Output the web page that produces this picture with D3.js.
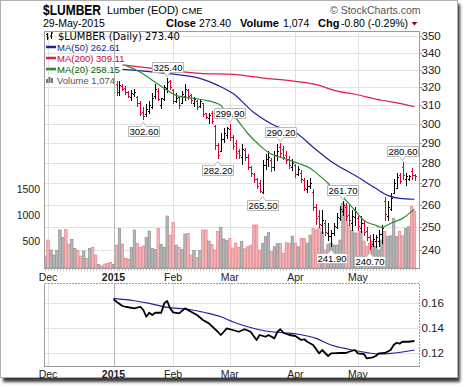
<!DOCTYPE html>
<html>
<head>
<meta charset="utf-8">
<script src="https://cdn.jsdelivr.net/npm/d3@7"></script>
<style>
  body { margin: 0; background: #fff; }
  svg { display: block; }
</style>
</head>
<body>
<div id="chart"></div>
<script>
// ---- data (bar index 0 = 28-Nov-2014, 124 = 29-May-2015) ----
const monthLabels = ['Dec', '2015', 'Feb', 'Mar', 'Apr', 'May'];
const monthIdx = [1, 23, 43, 62, 84, 105];

const priceTicks = [240, 250, 260, 270, 280, 290, 300, 310, 320, 330, 340, 350];
const volTicks = [500, 1000, 1500];
const ratioTicks = [0.12, 0.14, 0.16];

const priceStart = 24;
const opens = [
  322, 317, 320.5, 319.5, 317.5, 314.5, 316, 314.5, 311, 306.5,
  305, 307, 309, 315, 318, 310, 313.5, 319.5, 323.5, 318.5,
  312.5, 314.5, 311, 315, 318.5, 315.5, 311, 312, 309.5, 311,
  305.5, 303, 306, 299, 289, 286, 292, 294, 297, 293,
  290, 286, 283, 286.5, 283, 278, 274.5, 272, 270, 266,
  279, 282, 281.5, 278, 284, 288, 287, 284, 282, 278,
  279, 274.5, 275, 271.5, 267.5, 269, 266, 259, 255, 251,
  252, 247.5, 246, 247.5, 250, 254, 257, 259, 255.5, 252,
  254.5, 254, 249.5, 252, 248.5, 245.5, 242.5, 244, 244, 247,
  262, 255, 258, 265.5, 268, 274, 278, 272, 272, 276,
  274
];
const highs = [
  323.5, 323.5, 321.5, 320.5, 318, 318.5, 319, 315, 312.5, 309,
  310.5, 312.5, 316.5, 321.5, 319.5, 314, 321, 325.4, 324, 319,
  316.5, 315, 318, 321.5, 319, 316, 314.5, 312.7, 313.5, 311,
  306, 306, 307, 299.5, 290, 295, 297.5, 298.5, 299.9, 294,
  291.4, 287, 289.5, 287.5, 284.5, 278.5, 275, 272.5, 271.5, 281.3,
  284.5, 286, 282.5, 286, 289.5, 290.2, 288.5, 286, 283.5, 282,
  279.5, 278.5, 276.3, 272.5, 271.5, 272.5, 267.5, 260.5, 257.5, 257.5,
  253, 252, 248.6, 252, 256.5, 259.5, 261.7, 261, 260, 257.5,
  259, 255, 255, 253, 250, 246.5, 247.2, 246.5, 248.6, 250.8,
  263.5, 262, 265.5, 272, 274.8, 274.8, 280.6, 274.8, 274, 277.5,
  274.5
];
const lows = [
  315.5, 315.5, 318.5, 316, 314.5, 313, 315, 309.5, 304.5, 302.6,
  304, 305.5, 308.5, 314, 313, 308.5, 312.7, 317, 319, 311,
  311.5, 308.5, 311, 312.7, 313.5, 311, 309.5, 308, 309, 304,
  303, 300.5, 300.5, 287, 282.2, 286, 290.5, 292.5, 291.5, 287,
  282.5, 282.5, 279.5, 281.3, 277, 273.5, 270.5, 267.8, 266.2, 265.5,
  277, 278.5, 276, 276.3, 281.3, 283, 282, 280, 277.5, 276.3,
  273, 274, 270.5, 266.8, 265.8, 268, 257.5, 251.5, 250, 247.5,
  246.5, 244.2, 241.9, 246.5, 249.5, 253, 255.3, 253, 251, 248.6,
  251, 248.6, 247.7, 246.5, 244.2, 240.7, 242, 241.5, 242, 243.3,
  253, 253, 257.5, 265.5, 267.8, 270, 272, 269.5, 271.5, 272,
  271.5
];
const closes = [
  317, 321, 319, 317, 315, 316.5, 317.5, 311, 306, 304,
  308, 310, 314, 319, 313.5, 313.8, 320, 323, 320, 312,
  314, 310, 316, 319, 315, 313, 313.5, 309, 312, 305,
  303.5, 304.5, 301.5, 289, 284, 292, 295, 297.5, 293, 288.5,
  285, 284, 287, 283, 278, 275, 272, 269, 266.5, 279,
  282, 283, 278, 284, 286, 285, 283, 281.5, 279, 280,
  274.5, 277, 272, 268, 269, 270, 259, 254, 251.5, 253,
  248, 246, 247.5, 250.5, 254.5, 258, 260, 255, 253, 255,
  257, 250.5, 252, 248, 245.5, 242, 245, 245.5, 247, 249.5,
  256, 259, 263, 270, 273, 271, 274, 273.5, 273.8, 274.2,
  273.4
];

const volumes = [
  212, 519, 327, 231, 314, 712, 571, 724, 442, 532,
  359, 314, 212, 308, 167, 359, 378, 231, 51, 20,
  58, 71, 90, 51, 423, 744, 442, 167, 154, 378,
  712, 455, 378, 404, 571, 692, 359, 340, 744, 436,
  378, 981, 615, 852, 423, 378, 340, 635, 648, 231,
  314, 186, 314, 712, 712, 500, 436, 327, 679, 763,
  538, 506, 551, 365, 460, 380, 487, 350, 390, 420,
  808, 808, 327, 456, 583, 660, 294, 390, 456, 456,
  270, 467, 460, 596, 460, 390, 552, 552, 460, 615,
  744, 712, 750, 673, 327, 440, 461, 423, 423, 519,
  1230, 1180, 808, 700, 654, 654, 679, 500, 390, 456,
  487, 400, 327, 519, 679, 583, 600, 936, 583, 679,
  600, 744, 775, 1160, 1074
];
// r = down day, g = up day
const barDir = 'grgggggrrggrrgrgrrgrrrrg' +
  'rgrrrggrrrggggrgggrrgrggrrgrgrrgrrrgggr' +
  'rrrgrrrrrrgggrggrrrrgrgrrggrrrgrggggggrrggrgrrrggggrggggrrggrr';

const ma50 = [[26, 330.2], [40, 328], [52, 325], [58, 321], [63, 316.5], [70, 306.1], [77, 299.1],
  [84, 295.5], [90, 287.8], [96, 280.7], [104, 273.9], [111, 267.7], [115, 264.4], [119, 263], [124, 262.6]];
const ma200 = [[26, 332.8], [36, 330.8], [52, 327.9], [63, 327.3], [74, 325], [84, 323.3], [92, 321],
  [97, 318.2], [104, 316], [113, 312.7], [119, 311], [124, 309.1]];
const ma20 = [[27, 332.5], [32, 328.5], [36, 323.9], [41, 318.2], [44, 315.4], [50, 313.7], [54, 312.7],
  [59, 309.9], [60, 307.7], [64, 302.9], [68, 295], [72, 288.8], [75, 285.2], [77, 283.8], [80, 282.3],
  [85, 279.8], [89, 277.3], [92, 273.9], [95, 270.1], [96, 268.5], [101, 262.1], [104, 257.5], [107, 253],
  [111, 250.8], [113, 249.9], [116, 251.7], [120, 253.9], [124, 258.2]];

const highLabels = [325.4, 299.9, 290.2, 261.7, 280.6];
const lowLabels = [302.6, 282.2, 265.5, 241.9, 240.7];

const ratio = [[23, 0.163], [24, 0.161], [26, 0.1576], [27, 0.157], [30, 0.1557], [32, 0.157], [33, 0.1544],
  [34, 0.149], [35, 0.1522], [36, 0.1504], [37, 0.1522], [39, 0.1522], [40, 0.1597], [41, 0.1616],
  [42, 0.1557], [43, 0.1525], [45, 0.1517], [47, 0.1557], [49, 0.153], [51, 0.1504], [53, 0.1464],
  [55, 0.1437], [58, 0.137], [59, 0.1344], [60, 0.137], [61, 0.1397], [63, 0.1384], [65, 0.137],
  [67, 0.139], [69, 0.137], [71, 0.1304], [72, 0.1344], [74, 0.133], [75, 0.1344], [77, 0.1317],
  [78, 0.137], [79, 0.139], [80, 0.1362], [82, 0.1344], [84, 0.1336], [86, 0.1304], [87, 0.131],
  [88, 0.129], [90, 0.1264], [92, 0.1197], [93, 0.1224], [95, 0.1176], [96, 0.1197], [99, 0.12],
  [101, 0.12], [102, 0.121], [104, 0.1224], [105, 0.1197], [107, 0.1192], [108, 0.1157], [110, 0.1165],
  [111, 0.1176], [112, 0.1197], [114, 0.12], [116, 0.1224], [117, 0.1264], [118, 0.1282], [119, 0.1275],
  [120, 0.129], [122, 0.129], [124, 0.1296]];
const ratioMa = [[23, 0.1637], [30, 0.1618], [35, 0.1597], [41, 0.1565], [48, 0.155], [54, 0.1522],
  [59, 0.149], [63, 0.145], [68, 0.141], [74, 0.1376], [80, 0.1362], [85, 0.135], [91, 0.1317],
  [96, 0.1264], [102, 0.123], [108, 0.1203], [112, 0.1192], [116, 0.1197], [124, 0.1224]];

// ---- layout ----
const W = 464, H = 387;
const P = { l: 44, r: 419, t: 31, b: 268 };
const L = { t: 283, b: 366 };
const RED = '#dd0033', BLUE = '#22229a', GREEN = '#2e8b2e', MARED = '#e0204a';

const x = d3.scaleLinear().domain([0, 124]).range([45, 414.5]);
const yP = d3.scaleLog().domain([240, 350]).range([250.3, 36.3]);
const yV = d3.scaleLinear().domain([0, 1500]).range([267, 189]);
const yR = d3.scaleLinear().domain([0.12, 0.16]).range([353, 303]);

const svg = d3.select('#chart').append('svg')
  .attr('width', W).attr('height', H)
  .style('font-family', '"Liberation Sans", Arial, sans-serif');

const defs = svg.append('defs');
defs.append('filter').attr('id', 'blur')
  .append('feGaussianBlur').attr('stdDeviation', 1.6);
defs.append('clipPath').attr('id', 'clipMain')
  .append('rect').attr('x', P.l).attr('y', P.t).attr('width', P.r - P.l).attr('height', P.b - P.t);

// page frame with shadow
svg.append('rect').attr('x', 3).attr('y', 4).attr('width', 457).attr('height', 378)
  .attr('fill', '#3a3a3a').attr('filter', 'url(#blur)');
svg.append('rect').attr('x', 0.5).attr('y', 0.5).attr('width', 457).attr('height', 377)
  .attr('fill', '#fff').attr('stroke', '#b0b0b0');

// ---- header ----
svg.append('text').attr('transform', 'translate(43,15) scale(0.8,1)').text('$LUMBER')
  .attr('font-size', 15).attr('font-weight', 'bold');
const sub = svg.append('text').attr('x', 107).attr('y', 13.5).attr('font-size', 11);
sub.append('tspan').text('Lumber (EOD) ');
sub.append('tspan').text('CME').attr('font-size', 9.5);
svg.append('text').attr('x', 330).attr('y', 13.5).text('\u00A9 StockCharts.com')
  .attr('font-size', 10.5).attr('fill', '#555');

svg.append('text').attr('x', 43).attr('y', 27).text('29-May-2015').attr('font-size', 10.5);
const row = [
  ['Close', true, 166], ['273.40', false, 199], ['Volume', true, 240], ['1,074', false, 283],
  ['Chg', true, 318], ['-0.80 (-0.29%)', false, 341]
];
row.forEach(r => {
  svg.append('text').attr('x', r[2]).attr('y', 27).text(r[0])
    .attr('font-size', r[1] ? 11 : 10.5).attr('font-weight', r[1] ? 'bold' : 'normal');
});
svg.append('path').attr('d', 'M411.5,22 L417.5,22 L414.5,25.5 Z').attr('fill', '#990033');

// ---- main panel ----
svg.append('rect').attr('x', P.l).attr('y', P.t).attr('width', P.r - P.l).attr('height', P.b - P.t)
  .attr('fill', '#fff');

const grid = svg.append('g').attr('shape-rendering', 'crispEdges');
grid.selectAll('.hg').data(priceTicks).enter().append('line')
  .attr('x1', P.l).attr('x2', P.r)
  .attr('y1', d => Math.round(yP(d)) + 0.5).attr('y2', d => Math.round(yP(d)) + 0.5)
  .attr('stroke', '#e2e2e2');
grid.selectAll('.vg').data(monthIdx).enter().append('line')
  .attr('x1', d => Math.round(x(d)) + 0.5).attr('x2', d => Math.round(x(d)) + 0.5)
  .attr('y1', P.t).attr('y2', P.b)
  .attr('stroke', (d, i) => i === 1 ? '#b5b5b5' : '#e0e0e0');

// volume bars
const gMain = svg.append('g').attr('clip-path', 'url(#clipMain)');
gMain.selectAll('.vol').data(volumes).enter().append('rect')
  .attr('x', (d, i) => x(i) - 1.25).attr('width', 2.5)
  .attr('y', d => yV(d)).attr('height', d => yV(0) - yV(d) + 1)
  .attr('fill', (d, i) => barDir[i] === 'r' ? '#f4b4b8' : '#b6b6b6')
  .attr('stroke', (d, i) => barDir[i] === 'r' ? '#dc7c84' : '#8a8a8a')
  .attr('stroke-width', 0.6);

// price OHLC bars
const bars = opens.map((o, k) => ({ i: priceStart + k, o: o, h: highs[k], l: lows[k], c: closes[k] }));
const gBars = gMain.append('g').attr('shape-rendering', 'crispEdges');
bars.forEach(b => {
  const cx = Math.round(x(b.i)) + 0.5;
  const col = barDir[b.i] === 'r' ? RED : '#000';
  gBars.append('line').attr('x1', cx).attr('x2', cx)
    .attr('y1', Math.round(yP(b.h))).attr('y2', Math.round(yP(b.l)) + 1).attr('stroke', col);
  gBars.append('line').attr('x1', cx - 1.5).attr('x2', cx)
    .attr('y1', Math.round(yP(b.o)) + 0.5).attr('y2', Math.round(yP(b.o)) + 0.5).attr('stroke', col);
  gBars.append('line').attr('x1', cx).attr('x2', cx + 1.5)
    .attr('y1', Math.round(yP(b.c)) + 0.5).attr('y2', Math.round(yP(b.c)) + 0.5).attr('stroke', col);
});

// moving averages
const maLine = d3.line().x(d => x(d[0])).y(d => yP(d[1])).curve(d3.curveMonotoneX);
[[ma200, MARED], [ma50, BLUE], [ma20, GREEN]].forEach(m => {
  gMain.append('path').datum(m[0]).attr('d', maLine)
    .attr('fill', 'none').attr('stroke', m[1]).attr('stroke-width', 1.2);
});

// annotation boxes
function note(v, isHigh) {
  const src = isHigh ? highs : lows;
  const k = src.indexOf(v);
  const cx = x(priceStart + k);
  const w = 31, h = 10;
  const l = Math.round(cx - w / 2) + 0.5, r = l + w;
  let t, b, d;
  if (isHigh) {
    b = Math.round(yP(v)) - 5.5; t = b - h;
    d = `M${l},${t}H${r}V${b}H${cx + 3}L${cx},${b + 4}L${cx - 3},${b}H${l}Z`;
  } else {
    t = Math.round(yP(v)) + 7.5; b = t + h;
    d = `M${l},${t}H${cx - 3}L${cx},${t - 4}L${cx + 3},${t}H${r}V${b}H${l}Z`;
  }
  svg.append('path').attr('d', d).attr('fill', '#fff').attr('stroke', '#b8b8b8');
  svg.append('text').attr('x', (l + r) / 2).attr('y', b - 1.5).attr('text-anchor', 'middle')
    .attr('font-size', 9.5).text(v.toFixed(2));
}
highLabels.forEach(v => note(v, true));
lowLabels.forEach(v => note(v, false));

// panel border & axes
svg.append('rect').attr('x', P.l + 0.5).attr('y', P.t + 0.5).attr('width', P.r - P.l).attr('height', P.b - P.t)
  .attr('fill', 'none').attr('stroke', '#9c9c9c').attr('shape-rendering', 'crispEdges');
svg.append('g').attr('shape-rendering', 'crispEdges').selectAll('line').data(volumes).enter().append('line')
  .attr('x1', (d, i) => Math.round(x(i)) + 0.5).attr('x2', (d, i) => Math.round(x(i)) + 0.5)
  .attr('y1', P.b + 1).attr('y2', P.b + 3).attr('stroke', '#c4c4c4');

svg.selectAll('.pt').data(priceTicks).enter().append('line')
  .attr('x1', P.r).attr('x2', P.r + 3)
  .attr('y1', d => Math.round(yP(d)) + 0.5).attr('y2', d => Math.round(yP(d)) + 0.5)
  .attr('stroke', '#9c9c9c');
svg.selectAll('.pl').data(priceTicks).enter().append('text')
  .attr('x', P.r + 2.5).attr('y', d => yP(d) + 4)
  .attr('font-size', 11.5).attr('fill', '#222').text(d => d);
svg.selectAll('.vl').data(volTicks).enter().append('text')
  .attr('x', 40).attr('y', d => yV(d) + 4).attr('text-anchor', 'end')
  .attr('font-size', 10.5).attr('fill', '#222').text(d => d);

function monthAxis(yBase) {
  svg.selectAll(null).data(monthIdx).enter().append('text')
    .attr('x', d => x(d)).attr('y', yBase).attr('text-anchor', 'middle')
    .attr('font-size', 10.5).attr('font-weight', (d, i) => i === 1 ? 'bold' : 'normal')
    .attr('fill', '#222').text((d, i) => monthLabels[i]);
}
monthAxis(280.5);

// legend in main panel
const lg = svg.append('g');
lg.append('path').attr('d', 'M47.5,33V40M46,34.5H47.5M47.5,38H49M51.5,32V39M50,36H51.5M51.5,33H53')
  .attr('stroke', '#000').attr('fill', 'none');
lg.append('text').attr('x', 58).attr('y', 39.5).text('$LUMBER (Daily) 273.40')
  .attr('font-family', '"DejaVu Sans", Verdana, sans-serif').attr('font-size', 10);
const maLegend = [
  ['MA(50) 262.61', '#1a1a8c', BLUE, 50.5],
  ['MA(200) 309.11', '#cc0033', MARED, 61.5],
  ['MA(20) 258.15', '#006400', GREEN, 72.5]
];
maLegend.forEach(m => {
  lg.append('line').attr('x1', 46).attr('x2', 56).attr('y1', m[3] - 3.5).attr('y2', m[3] - 3.5)
    .attr('stroke', m[2]).attr('stroke-width', 2.5);
  lg.append('text').attr('x', 57).attr('y', m[3]).text(m[0])
    .attr('font-size', 9.5).attr('fill', m[1]);
});
[[46, 79], [48.5, 77], [51, 78]].forEach(b => {
  lg.append('rect').attr('x', b[0]).attr('y', b[1]).attr('width', 2).attr('height', 83 - b[1])
    .attr('fill', '#777');
});
lg.append('text').attr('x', 57).attr('y', 83.5).text('Volume 1,074')
  .attr('font-size', 9.5).attr('fill', '#555');

// ---- lower panel ----
svg.append('rect').attr('x', P.l).attr('y', L.t).attr('width', P.r - P.l).attr('height', L.b - L.t)
  .attr('fill', '#fff');
const g2 = svg.append('g').attr('shape-rendering', 'crispEdges');
g2.selectAll('.rh').data(ratioTicks).enter().append('line')
  .attr('x1', P.l).attr('x2', P.r)
  .attr('y1', d => Math.round(yR(d)) + 0.5).attr('y2', d => Math.round(yR(d)) + 0.5)
  .attr('stroke', '#e2e2e2');
g2.selectAll('.rv').data(monthIdx).enter().append('line')
  .attr('x1', d => Math.round(x(d)) + 0.5).attr('x2', d => Math.round(x(d)) + 0.5)
  .attr('y1', L.t).attr('y2', L.b)
  .attr('stroke', (d, i) => i === 1 ? '#b5b5b5' : '#e0e0e0');

const rLine = d3.line().x(d => x(d[0])).y(d => yR(d[1]));
svg.append('path').datum(ratioMa).attr('d', rLine.curve(d3.curveMonotoneX))
  .attr('fill', 'none').attr('stroke', BLUE).attr('stroke-width', 1.2);
svg.append('path').datum(ratio).attr('d', d3.line().x(d => x(d[0])).y(d => yR(d[1])))
  .attr('fill', 'none').attr('stroke', '#000').attr('stroke-width', 1.8).attr('stroke-linejoin', 'round');

svg.append('path')
  .attr('d', `M${P.l + 0.5},${L.t + 0.5}V${L.b + 0.5}H${P.r + 0.5}`)
  .attr('fill', 'none').attr('stroke', '#9c9c9c').attr('shape-rendering', 'crispEdges');
svg.append('path')
  .attr('d', `M${P.l + 0.5},${L.t + 0.5}H${P.r + 0.5}V${L.b + 0.5}`)
  .attr('fill', 'none').attr('stroke', '#9c9c9c').attr('stroke-dasharray', '2,1')
  .attr('shape-rendering', 'crispEdges');
svg.selectAll('.rl').data(ratioTicks).enter().append('text')
  .attr('x', P.r + 2.5).attr('y', d => yR(d) + 4)
  .attr('font-size', 11.5).attr('fill', '#222').text(d => d.toFixed(2));
monthAxis(377.5);

lg.append('line').attr('x1', 46).attr('x2', 56).attr('y1', 290.5).attr('y2', 290.5)
  .attr('stroke', '#000').attr('stroke-width', 2.5);
lg.append('text').attr('x', 58).attr('y', 294.5).text('$LUMBER:$SPX 0.13')
  .attr('font-family', '"DejaVu Sans", Verdana, sans-serif').attr('font-size', 10)
  .attr('letter-spacing', 0.5);
lg.append('line').attr('x1', 46).attr('x2', 56).attr('y1', 301.5).attr('y2', 301.5)
  .attr('stroke', BLUE).attr('stroke-width', 2.5);
lg.append('text').attr('x', 57).attr('y', 305).text('MA(20) 0.12')
  .attr('font-size', 9.5).attr('fill', '#1a1a8c');
</script>
</body>
</html>
